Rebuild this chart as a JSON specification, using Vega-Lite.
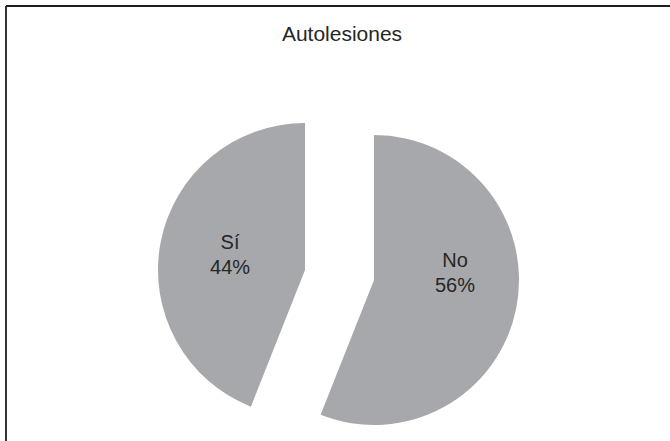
{
  "$schema": "https://vega.github.io/schema/vega-lite/v6.json",
  "autosize": {"type": "fit", "contains": "padding"},
  "width": 670,
  "height": 441,
  "padding": {"left": 6, "top": 6, "right": 0, "bottom": 0},
  "background": "white",
  "view": {"stroke": "#1e1e1e", "strokeWidth": 1.8, "strokeDash": [664, 1099, 435, 0], "fill": "white"},
  "config": {
    "font": "Liberation Sans"
  },
  "title": {
    "text": "Autolesiones",
    "offset": -39,
    "dx": 4,
    "anchor": "middle",
    "fontSize": 21,
    "fontWeight": "normal",
    "font": "Liberation Sans",
    "color": "#262626"
  },
  "data": {
    "values": [
      {"cat": "Sí", "value": 44},
      {"cat": "No", "value": 56}
    ]
  },
  "transform": [
    {"stack": "value", "groupby": [], "sort": [{"field": "cat", "order": "ascending"}], "as": ["v0", "v1"]},
    {"calculate": "(datum.v0 + datum.v1) / 2", "as": "mid"},
    {"calculate": "datum.cat + '\\n' + datum.value + '%'", "as": "label"}
  ],
  "layer": [
    {
      "transform": [{"filter": "datum.cat === 'No'"}],
      "mark": {"type": "arc", "radius": 145, "xOffset": 36, "yOffset": 56.5, "color": "#a7a8ab"},
      "encoding": {
        "theta": {"field": "v0", "type": "quantitative", "scale": {"domain": [0, 100]}},
        "theta2": {"field": "v1"}
      }
    },
    {
      "transform": [{"filter": "datum.cat === 'Sí'"}],
      "mark": {"type": "arc", "radius": 147, "xOffset": -33, "yOffset": 46.5, "color": "#a7a8ab"},
      "encoding": {
        "theta": {"field": "v0", "type": "quantitative", "scale": {"domain": [0, 100]}},
        "theta2": {"field": "v1"}
      }
    },
    {
      "transform": [{"filter": "datum.cat === 'No'"}],
      "mark": {"type": "text", "radius": 80, "xOffset": 38.4, "yOffset": 22.5, "fontSize": 20, "lineHeight": 25, "lineBreak": "\n", "color": "#262626", "align": "center", "baseline": "middle"},
      "encoding": {
        "theta": {"field": "mid", "type": "quantitative", "scale": {"domain": [0, 100]}},
        "text": {"field": "label"}
      }
    },
    {
      "transform": [{"filter": "datum.cat === 'Sí'"}],
      "mark": {"type": "text", "radius": 76, "xOffset": -33.3, "yOffset": 34, "fontSize": 20, "lineHeight": 25, "lineBreak": "\n", "color": "#262626", "align": "center", "baseline": "middle"},
      "encoding": {
        "theta": {"field": "mid", "type": "quantitative", "scale": {"domain": [0, 100]}},
        "text": {"field": "label"}
      }
    }
  ]
}
